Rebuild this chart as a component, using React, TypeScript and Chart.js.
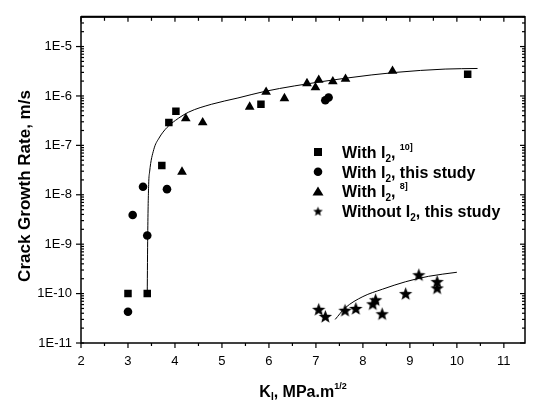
import React, { useEffect, useRef } from 'react';
import { Chart, registerables } from 'chart.js';
Chart.register(...registerables);

// ---------- data ----------
const refTenX = [3.0, 3.41, 3.72, 3.87, 4.02, 5.83, 10.23];
const refTenY = [1.0e-10, 1.0e-10, 3.9e-8, 2.9e-7, 4.9e-7, 6.8e-7, 2.75e-6];

const thisStudyX = [3.0, 3.1, 3.32, 3.41, 3.83, 7.2, 7.27];
const thisStudyY = [4.3e-11, 3.9e-9, 1.45e-8, 1.5e-9, 1.3e-8, 8.2e-7, 9.3e-7];

const refEightX = [4.15, 4.23, 4.59, 5.59, 5.94, 6.33, 6.81, 6.99, 7.06, 7.36, 7.63, 8.63];
const refEightY = [2.9e-8, 3.5e-7, 2.9e-7, 6.0e-7, 1.2e-6, 8.9e-7, 1.8e-6, 1.48e-6, 2.1e-6, 1.96e-6, 2.2e-6, 3.2e-6];

const withoutX = [7.06, 7.2, 7.62, 7.85, 8.21, 8.27, 8.41, 8.91, 9.19, 9.58, 9.58];
const withoutY = [4.8e-11, 3.45e-11, 4.6e-11, 5.0e-11, 6.2e-11, 7.5e-11, 3.9e-11, 1.0e-10, 2.4e-10, 1.75e-10, 1.3e-10];

const fitWithX = [3.41, 3.42, 3.44, 3.46, 3.55, 3.66, 3.83, 4.01, 4.29, 4.78, 5.34, 5.9, 6.55, 7.65, 8.7, 9.75, 10.44];
const fitWithY = [1e-10, 1.5e-9, 1.6e-8, 2.9e-8, 8.3e-8, 1.4e-7, 2.3e-7, 3.2e-7, 4.7e-7, 6.8e-7, 9.1e-7, 1.23e-6, 1.6e-6, 2.3e-6, 3.0e-6, 3.5e-6, 3.6e-6];

const fitWithoutX = [7.41, 7.62, 8.0, 8.42, 8.91, 9.4, 10.0];
const fitWithoutY = [3.0e-11, 5.1e-11, 8.7e-11, 1.23e-10, 1.74e-10, 2.24e-10, 2.7e-10];

const xTickValues = [2, 3, 4, 5, 6, 7, 8, 9, 10, 11];
const yTickValues = [1e-11, 1e-10, 1e-9, 1e-8, 1e-7, 1e-6, 1e-5];
const yTickLabels = ['1E-11', '1E-10', '1E-9', '1E-8', '1E-7', '1E-6', '1E-5'];

const yTitle = 'Crack Growth Rate, m/s';
const legendEntries = [
  { style: 'rect', main: 'With I', sub: '2', after: ', ', sup: '10]' },
  { style: 'circle', main: 'With I', sub: '2', after: ', this study', sup: '' },
  { style: 'triangle', main: 'With I', sub: '2', after: ', ', sup: '8]' },
  { style: 'star', main: 'Without I', sub: '2', after: ', this study', sup: '' },
];

const FAMILY = "'Liberation Sans', Arial, Helvetica, sans-serif";

function makeStar(size: number, outer: number, inner: number) {
  const c = document.createElement('canvas');
  c.width = size;
  c.height = size;
  const g = c.getContext('2d')!;
  g.beginPath();
  for (let i = 0; i < 10; i++) {
    const r = i % 2 ? inner : outer;
    const a = -Math.PI / 2 + (i * Math.PI) / 5;
    const px = size / 2 + r * Math.cos(a);
    const py = size / 2 + r * Math.sin(a) + 0.6;
    if (i) g.lineTo(px, py);
    else g.moveTo(px, py);
  }
  g.closePath();
  g.fillStyle = '#000';
  g.fill();
  return c;
}

function drawParts(ctx: CanvasRenderingContext2D, parts: { t: string; size: number; dy: number }[], x: number, y: number, align: 'left' | 'center') {
  let total = 0;
  for (const p of parts) {
    ctx.font = `bold ${p.size}px ${FAMILY}`;
    total += ctx.measureText(p.t).width;
  }
  let cx = align === 'center' ? x - total / 2 : x;
  ctx.textAlign = 'left';
  ctx.textBaseline = 'alphabetic';
  for (const p of parts) {
    ctx.font = `bold ${p.size}px ${FAMILY}`;
    ctx.fillText(p.t, cx, y + p.dy);
    cx += ctx.measureText(p.t).width;
  }
}

const decorPlugin = {
  id: 'decor',
  afterDraw(chart: any) {
    const { ctx, chartArea: a, scales } = chart;
    const xs = scales.x;
    const ys = scales.y;
    ctx.save();
    ctx.strokeStyle = '#000';
    ctx.fillStyle = '#000';
    ctx.lineWidth = 1.5;
    ctx.strokeRect(a.left, a.top, a.right - a.left, a.bottom - a.top);
    ctx.lineWidth = 2;
    ctx.beginPath();
    ctx.moveTo(a.left, a.top);
    ctx.lineTo(a.right, a.top);
    ctx.stroke();

    const line = (x1: number, y1: number, x2: number, y2: number) => {
      ctx.beginPath();
      ctx.moveTo(x1, y1);
      ctx.lineTo(x2, y2);
      ctx.stroke();
    };
    ctx.lineWidth = 1.2;
    // x ticks (every half unit)
    for (let k = 0; k <= 18; k++) {
      const v = 2 + k * 0.5;
      const px = xs.getPixelForValue(v);
      const major = k % 2 === 0;
      line(px, a.bottom, px, a.bottom + (major ? 5 : 3));
      line(px, a.top, px, a.top + (major ? 5 : 4));
    }
    // y ticks (decades + minor)
    for (let e = -11; e <= -5; e++) {
      for (let m = 1; m <= 9; m++) {
        const v = m * Math.pow(10, e);
        if (v > ys.max * 1.0001) break;
        const py = ys.getPixelForValue(v);
        if (m === 1) {
          line(a.left - 5, py, a.left + 3, py);
          line(a.right - 5, py, a.right, py);
        } else {
          line(a.left, py, a.left + 3, py);
          line(a.right - 3, py, a.right, py);
        }
      }
    }

    // y title
    ctx.save();
    ctx.translate(25, 186);
    ctx.rotate(-Math.PI / 2);
    ctx.font = `bold 17px ${FAMILY}`;
    ctx.textAlign = 'center';
    ctx.textBaseline = 'middle';
    ctx.fillText(yTitle, 0, 0);
    ctx.restore();

    // x title
    const cx = (a.left + a.right) / 2;
    drawParts(
      ctx,
      [
        { t: 'K', size: 16, dy: 0 },
        { t: 'I', size: 10, dy: 3 },
        { t: ', MPa.m', size: 16, dy: 0 },
        { t: '1/2', size: 9, dy: -8 },
      ],
      cx,
      397,
      'center'
    );

    // legend
    const star = makeStar(13, 5, 2.2);
    legendEntries.forEach((en, i) => {
      const ry = 152 + i * 19.7;
      const mx = 318;
      ctx.beginPath();
      if (en.style === 'rect') {
        ctx.rect(mx - 4, ry - 4, 8, 8);
        ctx.fill();
      } else if (en.style === 'circle') {
        ctx.arc(mx, ry, 4.3, 0, Math.PI * 2);
        ctx.fill();
      } else if (en.style === 'triangle') {
        ctx.moveTo(mx, ry - 5);
        ctx.lineTo(mx + 5.5, ry + 4);
        ctx.lineTo(mx - 5.5, ry + 4);
        ctx.closePath();
        ctx.fill();
      } else {
        ctx.drawImage(star, mx - 6.5, ry - 6.5);
      }
      const parts = [
        { t: en.main, size: 16, dy: 0 },
        { t: en.sub, size: 10, dy: 4 },
        { t: en.after, size: 16, dy: 0 },
      ];
      if (en.sup) parts.push({ t: en.sup, size: 9, dy: -8 });
      drawParts(ctx, parts, 342, ry + 6, 'left');
    });
    ctx.restore();
  },
};

export default function App() {
  const ref = useRef<HTMLCanvasElement>(null);
  useEffect(() => {
    const canvas = ref.current!;
    const star = makeStar(17, 7, 3);
    const pts = (xs: number[], ys: number[]) => xs.map((x, i) => ({ x, y: ys[i] }));
    const tickFont = { family: FAMILY, size: 13 };
    const chart = new Chart(canvas, {
      type: 'scatter',
      data: {
        datasets: [
          {
            label: 'fit with I2',
            data: pts(fitWithX, fitWithY),
            showLine: true,
            borderColor: '#000',
            borderWidth: 1,
            pointRadius: 0,
            cubicInterpolationMode: 'monotone',
            order: 5,
          },
          {
            label: 'fit without I2',
            data: pts(fitWithoutX, fitWithoutY),
            showLine: true,
            borderColor: '#000',
            borderWidth: 1,
            pointRadius: 0,
            cubicInterpolationMode: 'monotone',
            order: 5,
          },
          {
            label: 'With I2, 10]',
            data: pts(refTenX, refTenY),
            pointStyle: 'rect',
            pointRadius: 5.3,
            backgroundColor: '#000',
            borderColor: '#000',
            borderWidth: 0,
          },
          {
            label: 'With I2, this study',
            data: pts(thisStudyX, thisStudyY),
            pointStyle: 'circle',
            pointRadius: 4.3,
            backgroundColor: '#000',
            borderColor: '#000',
            borderWidth: 0,
          },
          {
            label: 'With I2, 8]',
            data: pts(refEightX, refEightY),
            pointStyle: 'triangle',
            pointRadius: 5.6,
            backgroundColor: '#000',
            borderColor: '#000',
            borderWidth: 0,
          },
          {
            label: 'Without I2, this study',
            data: pts(withoutX, withoutY),
            pointStyle: star as any,
            pointRadius: 8,
            backgroundColor: '#000',
            borderColor: '#000',
            borderWidth: 0,
          },
        ],
      },
      options: {
        responsive: false,
        animation: false,
        events: [],
        layout: { padding: { top: 7, right: 2, left: 0, bottom: 0 } },
        plugins: { legend: { display: false }, tooltip: { enabled: false } },
        scales: {
          x: {
            type: 'linear',
            min: 2,
            max: 11.45,
            afterBuildTicks: (s: any) => {
              s.ticks = xTickValues.map((v) => ({ value: v }));
            },
            afterFit: (s: any) => {
              s.height = 57;
            },
            grid: { display: false, drawTicks: false },
            border: { display: false },
            ticks: { font: tickFont, color: '#000', padding: 11, maxRotation: 0, callback: (v: any) => String(v) },
          },
          y: {
            type: 'logarithmic',
            min: 1e-11,
            max: 4e-5,
            afterBuildTicks: (s: any) => {
              s.ticks = yTickValues.map((v) => ({ value: v }));
            },
            afterFit: (s: any) => {
              s.width = 81;
            },
            grid: { display: false, drawTicks: false },
            border: { display: false },
            ticks: { font: tickFont, color: '#000', padding: 9, callback: (_v: any, i: number) => yTickLabels[i] },
          },
        },
      } as any,
      plugins: [decorPlugin],
    });
    return () => chart.destroy();
  }, []);
  return (
    <div style={{ position: 'absolute', left: 0, top: 0, width: 533, height: 400, background: '#fff' }}>
      <canvas ref={ref} width={533} height={400} style={{ width: 533, height: 400, display: 'block' }} />
    </div>
  );
}
